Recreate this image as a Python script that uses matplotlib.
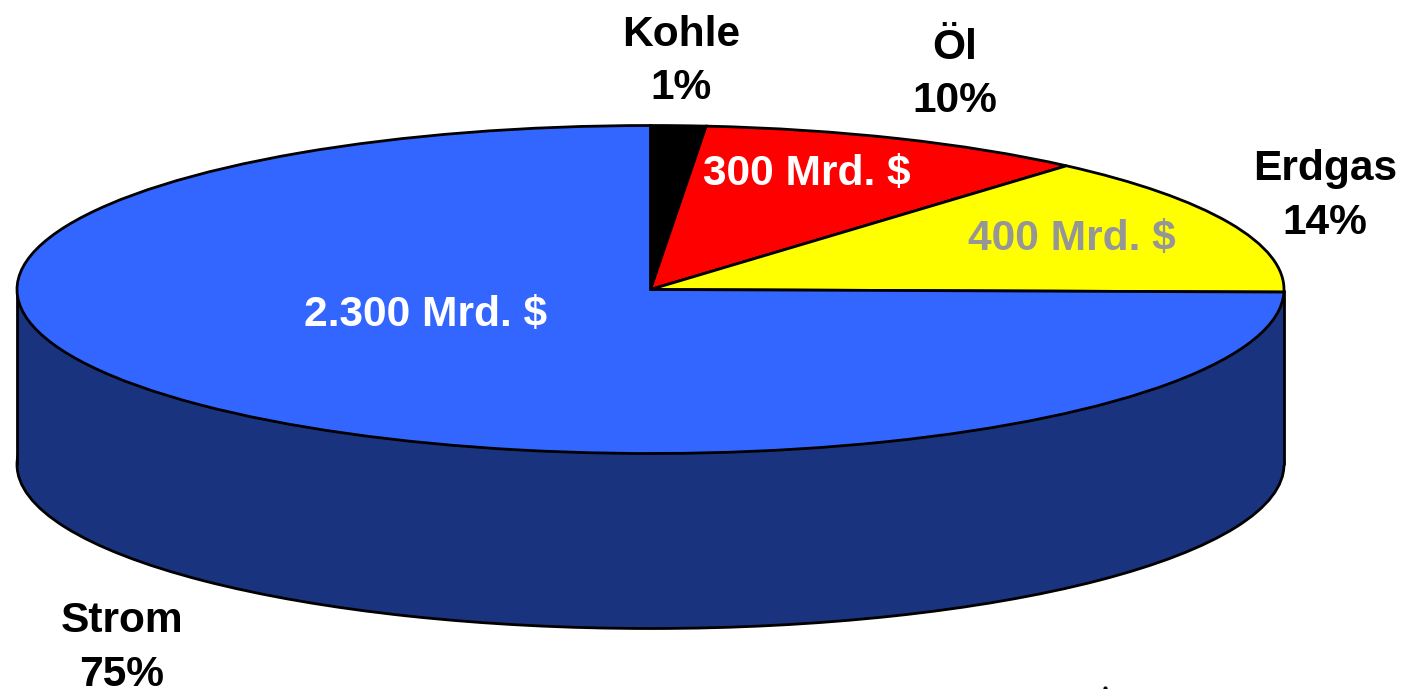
"""Energy spending pie, drawn flat and squashed with a dark side wall."""
import matplotlib

matplotlib.use("Agg")
import matplotlib.pyplot as plt
from matplotlib.patches import Rectangle

# Drawn slice sizes, clockwise from 12 o'clock
categories = ["Kohle", "Öl", "Erdgas", "Strom"]
share_labels = ["1%", "10%", "14%", "75%"]
drawn_shares = [1.4, 10.0, 13.85, 74.75]
amount_labels = ["300 Mrd. $", "400 Mrd. $", "2.300 Mrd. $"]
colors = ["#000000", "#FF0000", "#FFFF00", "#3366FF"]
side_color = "#1A337F"

plt.rcParams["font.family"] = ["Liberation Sans", "DejaVu Sans"]

W, H = 1401, 689
CX, TOP_Y, BOTTOM_Y = 650.5, 289.5, 464.5
RX, RY = 633.5, 164.0
LW = 2.0
FONT = 30.6

fig = plt.figure(figsize=(W / 100, H / 100), dpi=100)
ax = fig.add_axes([0, 0, 1, 1])

# Work in a unit circle scaled so that y pixels stay correct
scale_y = RX / RY


def to_y(pixel_y):
    return (H - pixel_y) * scale_y


# Side wall: bottom pie plus a filler between the two ellipses
# startangle=90 puts the pie's radial edge where the filler hides it
ax.pie([1], colors=[side_color], startangle=90, center=(CX, to_y(BOTTOM_Y)), radius=RX,
       wedgeprops={"edgecolor": "black", "linewidth": LW}, frame=True)
ax.add_patch(Rectangle((CX - RX, to_y(BOTTOM_Y)), 2 * RX, to_y(TOP_Y) - to_y(BOTTOM_Y),
                       facecolor=side_color, edgecolor="none", zorder=2))
for side_x in (CX - RX, CX + RX):
    ax.plot([side_x, side_x], [to_y(TOP_Y), to_y(BOTTOM_Y)], color="black", lw=LW,
            solid_capstyle="butt", zorder=3)

# Top face
wedges, _ = ax.pie(drawn_shares, colors=colors, startangle=90, counterclock=False,
                   center=(CX, to_y(TOP_Y)), radius=RX,
                   wedgeprops={"edgecolor": "black", "linewidth": LW, "zorder": 4}, frame=True)

ax.set_aspect("auto")
ax.set_xlim(0, W)
ax.set_ylim(0, H * scale_y)
ax.axis("off")

label_pos = [(681, 61.5), (955, 74.5), (1325, 196), (122, 648)]
for name, share, (x, y) in zip(categories, share_labels, label_pos):
    ax.text(x, to_y(y), f"{name}\n{share}", ha="center", va="center", fontsize=FONT,
            fontweight="bold", color="black", linespacing=1.43, zorder=6)

amount_pos = [(807, 174), (1072, 239), (426, 315)]
amount_colors = ["white", "#969696", "white"]
for text, (x, y), color in zip(amount_labels, amount_pos, amount_colors):
    ax.text(x, to_y(y), text, ha="center", va="center", fontsize=FONT,
            fontweight="bold", color=color, zorder=6)

# Stray speck at the bottom edge of the source picture
ax.plot([1104.5], [to_y(688)], marker="o", ms=2, color="black", zorder=6, clip_on=False)

fig.savefig("out.png", dpi=100)
